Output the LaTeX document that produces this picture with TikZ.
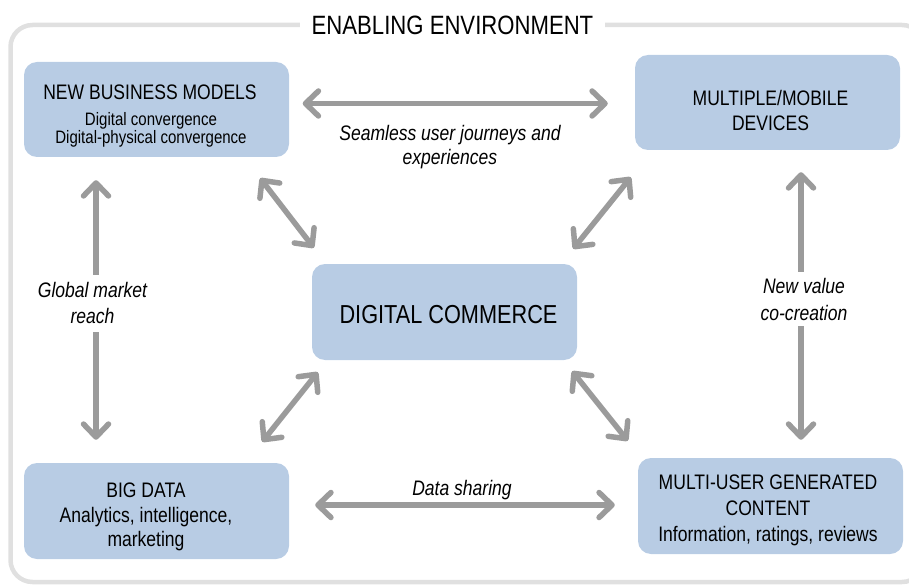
\documentclass[tikz,border=0pt]{standalone}
\usepackage{fontspec}
\setmainfont{Liberation Sans}[FakeStretch=0.835]
\usetikzlibrary{arrows.meta}
\definecolor{boxblue}{HTML}{B8CCE4}
\definecolor{framegray}{HTML}{E0E0E0}
\definecolor{arrgray}{HTML}{9B9B9B}
\tikzset{
  box/.style={fill=boxblue, rounded corners=13pt, minimum width=265pt, minimum height=95pt, inner sep=0pt},
  txt/.style={align=center, inner sep=0pt},
  lbl/.style={align=center, inner sep=0pt},
  barb/.tip={Straight Barb[length=13pt,width=25pt,round]},
  arr/.style={draw=arrgray, line width=5.5pt, barb-barb},
}
\begin{document}
\begin{tikzpicture}[x=1pt,y=-1pt]
\useasboundingbox (0,0) rectangle (909,585);
\clip (0,0) rectangle (909,585);
% frame
\draw[framegray, line width=4.5pt, rounded corners=22pt] (10.5,25) rectangle (924,582);
\node[fill=white, inner xsep=12pt, inner ysep=3pt, anchor=base, font=\fontsize{26.5}{30}\selectfont] (title) at (452.5,34.5) {ENABLING ENVIRONMENT};
% boxes
\node[box] (nbm) at (156.5,109.5) {};
\node[box] (mmd) at (767.5,102.5) {};
\node[box, minimum height=96pt] (dc) at (444.5,312) {};
\node[box, minimum height=96pt] (bd) at (156.5,511) {};
\node[box, minimum height=96pt] (mugc) at (770.5,506) {};
% box texts
\node[txt, anchor=base, font=\fontsize{21}{25}\selectfont] (nbmh) at (150,100) {NEW BUSINESS MODELS};
\node[txt, font=\fontsize{18}{18}\selectfont] (nbms) at (151,130) {Digital convergence\\Digital-physical convergence};
\node[txt, font=\fontsize{21}{25}\selectfont] (mmdt) at (770.5,110) {MULTIPLE/MOBILE\\DEVICES};
\node[txt, anchor=base, font=\fontsize{26}{30}\selectfont] (dct) at (448.5,323) {DIGITAL COMMERCE};
\node[txt, font=\fontsize{21}{24.5}\selectfont] (bdt) at (146,517.2) {BIG DATA\\Analytics, intelligence,\\marketing};
\node[txt, font=\fontsize{21}{26}\selectfont] (mugct) at (768,510.7) {MULTI-USER GENERATED\\CONTENT\\Information, ratings, reviews};
% arrows
\draw[arr] ([shift={(13.5,-6)}]nbm.east) -- ([shift={(-27,1)}]mmd.west);
\draw[arr] ([shift={(26,-6)}]bd.east) -- ([shift={(-23,-1)}]mugc.west);
\draw[arr] ([shift={(-60.5,23)}]nbm.south) -- ([shift={(-60.5,-23)}]bd.north);
\draw[arr] ([shift={(33.5,22)}]mmd.south) -- ([shift={(30.5,-18)}]mugc.north);
\draw[arr] ([shift={(-29,21)}]nbm.south east) -- ([shift={(2,-16)}]dc.north west);
\draw[arr] ([shift={(-4,27)}]mmd.south west) -- ([shift={(-4,-15)}]dc.north east);
\draw[arr] ([shift={(-27,-21)}]bd.north east) -- ([shift={(6,12)}]dc.south west);
\draw[arr] ([shift={(-10,-17)}]mugc.north west) -- ([shift={(-5,11)}]dc.south east);
% labels
\node[lbl, font=\fontsize{21}{24}\selectfont\itshape] (seam) at (450,147) {Seamless user journeys and\\experiences};
\node[lbl, fill=white, inner xsep=2pt, inner ysep=8pt, font=\fontsize{21}{26}\selectfont\itshape] (glob) at (92.5,303.4) {Global market\\reach};
\node[lbl, fill=white, inner xsep=2pt, inner ysep=6pt, font=\fontsize{21}{27}\selectfont\itshape] (newv) at (804,299.2) {New value\\co-creation};
\node[lbl, anchor=base, font=\fontsize{21}{25}\selectfont\itshape] (datas) at (462,495) {Data sharing};
\end{tikzpicture}
\end{document}
